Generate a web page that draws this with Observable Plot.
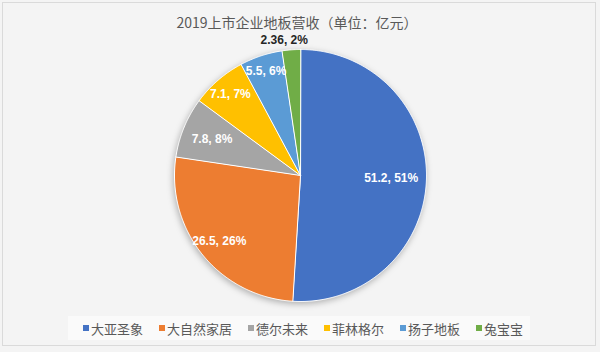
<!DOCTYPE html>
<html>
<head>
<meta charset="utf-8">
<script src="https://cdn.jsdelivr.net/npm/d3@7"></script>
<script src="https://cdn.jsdelivr.net/npm/@observablehq/plot@0.6"></script>
<style>
  html, body { margin: 0; padding: 0; background: #f4f4f4; }
  #wrap { position: relative; width: 600px; height: 352px; background: #f4f4f4; overflow: hidden;
          font-family: "Noto Sans CJK SC", "Liberation Sans", sans-serif; }
  #frame { position: absolute; left: 2px; top: 2px; width: 594px; height: 344px; border: 1px solid #dadada; box-sizing: border-box; }
  #title { position: absolute; left: 0; top: 12px; width: 594px; text-align: center; font-size: 14px; line-height: 20px; color: #595959; }
  #chart { position: absolute; left: 0; top: 30px; }
  #legendbox { position: absolute; left: 68px; top: 316px; width: 462px; height: 24px; background: #fafafa; }
  #legend { position: absolute; left: 0; top: 316px; width: 606px; height: 24px; display: flex; justify-content: center; align-items: center; font-size: 13px; color: #595959; }
  .item { display: flex; align-items: center; margin: 0 8px; }
  .sw { width: 6px; height: 6px; margin-right: 2px; }
</style>
</head>
<body>
<div id="wrap">
  <div id="frame"></div>
  <div id="title">2019上市企业地板营收（单位：亿元）</div>
  <div id="chart"></div>
  <div id="legendbox"></div>
  <div id="legend"></div>
</div>
<script>
// ---- data ----
const names = ["大亚圣象", "大自然家居", "德尔未来", "菲林格尔", "扬子地板", "兔宝宝"];
const values = [51.2, 26.5, 7.8, 7.1, 5.5, 2.36];
const percents = [51, 26, 8, 7, 6, 2];
const colors = ["#4472C4", "#ED7D31", "#A5A5A5", "#FFC000", "#5B9BD5", "#70AD47"];

// ---- layout ----
const W = 600, H = 280, R = 126, CX = 300, CY = 145;
const labelRadius = [0.72, 0.83, 0.76, 0.85, 0.87]; // inside labels (best fit)
const rows = names.map((name, i) => ({name, value: values[i], pct: percents[i], color: colors[i], i}));
const arcs = d3.pie().sort(null).value(d => d.value)(rows);

// slice outlines (unit circle coords, angle from top clockwise)
const pts = [];
for (const a of arcs) {
  pts.push({name: a.data.name, x: 0, y: 0});
  const n = Math.max(4, Math.ceil((a.endAngle - a.startAngle) / 0.008));
  for (let k = 0; k <= n; k++) {
    const t = a.startAngle + (a.endAngle - a.startAngle) * k / n;
    pts.push({name: a.data.name, x: Math.sin(t), y: Math.cos(t)});
  }
}
const mid = a => (a.startAngle + a.endAngle) / 2;
const inside = arcs.filter(a => a.data.i < labelRadius.length).map(a => ({
  x: Math.sin(mid(a)) * labelRadius[a.data.i],
  y: Math.cos(mid(a)) * labelRadius[a.data.i],
  label: `${a.data.value}, ${a.data.pct}%`
}));
const outside = arcs.filter(a => a.data.i >= labelRadius.length).map(a => ({
  x: Math.sin(mid(a)), y: Math.cos(mid(a)), label: `${a.data.value}, ${a.data.pct}%`
}));

const plot = Plot.plot({
  width: W, height: H, margin: 0,
  style: {background: "transparent", overflow: "visible"},
  x: {domain: [-CX / R, (W - CX) / R], range: [0, W], axis: null},
  y: {domain: [-(H - CY) / R, CY / R], range: [H, 0], axis: null},
  color: {domain: names, range: colors},
  marks: [
    Plot.line(pts, {x: "x", y: "y", z: "name", fill: "name", stroke: "white", strokeWidth: 1, curve: "linear-closed"}),
    Plot.text(inside, {x: "x", y: "y", text: "label", fill: "white", fontWeight: "bold", fontSize: 12,
      fontFamily: "Liberation Sans, Arial, sans-serif"}),
    Plot.text(outside, {x: "x", y: "y", text: "label", fill: "#262626", fontWeight: "bold", fontSize: 12, dx: -7, dy: -10,
      fontFamily: "Liberation Sans, Arial, sans-serif"})
  ]
});
d3.select(plot).select("g[aria-label='line']").style("filter", "drop-shadow(-1px 2px 3px rgba(0,0,0,0.28))");
document.getElementById("chart").appendChild(plot);

// legend
const leg = document.getElementById("legend");
names.forEach((n, i) => {
  const it = document.createElement("div");
  it.className = "item";
  it.innerHTML = `<span class="sw" style="background:${colors[i]}"></span><span>${n}</span>`;
  leg.appendChild(it);
});
</script>
</body>
</html>
